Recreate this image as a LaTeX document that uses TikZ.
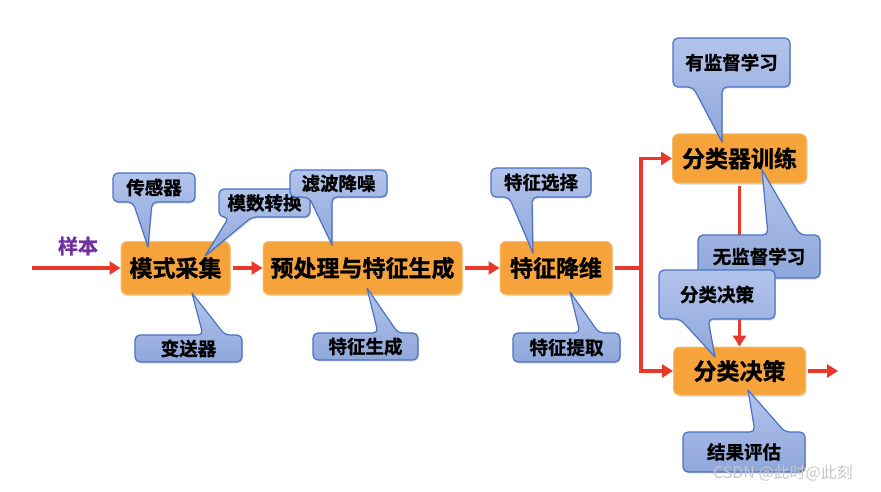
\documentclass[tikz,border=0pt]{standalone}
\usepackage{fontspec}
\setmainfont{Noto Sans CJK SC}[BoldFont={Noto Sans CJK SC Bold}, BoldFeatures={FakeBold=1.2}]
\usetikzlibrary{arrows.meta,shadows}
\definecolor{boxfill}{HTML}{F5A33A}
\definecolor{boxline}{HTML}{F7BE6A}
\definecolor{cotop}{HTML}{B3C4EC}
\definecolor{cobot}{HTML}{8FA7DB}
\definecolor{coline}{HTML}{4A72C0}
\definecolor{arrred}{HTML}{E8382A}
\definecolor{purp}{HTML}{7030A0}
\newcommand\cobot[8]{\draw[callout] (#7,#8) -- (#6,#4) -- (#3,#4) -- (#3,#2) -- (#1,#2) -- (#1,#4) -- (#5,#4) -- (#7,#8);}
\newcommand\cotop[8]{\draw[callout] (#7,#8) -- (#5,#2) -- (#1,#2) -- (#1,#4) -- (#3,#4) -- (#3,#2) -- (#6,#2) -- (#7,#8);}
\tikzset{
  stage/.style={draw=boxline, line width=1pt, fill=boxfill, rounded corners=6pt, inner sep=0pt,
    font=\fontsize{23}{23}\selectfont\bfseries,
    drop shadow={opacity=0.3, shadow xshift=1pt, shadow yshift=-1.5pt}},
  callout/.style={draw=coline, line width=1.2pt, top color=cotop, bottom color=cobot,
    rounded corners=5pt, line cap=round,
    drop shadow={opacity=0.25, shadow xshift=1pt, shadow yshift=-1.5pt}},
  cotext/.style={font=\fontsize{18.5}{18.5}\selectfont\bfseries, inner sep=0pt},
  arr/.style={draw=arrred, line width=3.4pt, shorten <=2pt, -{Triangle[length=11pt,width=13pt]}},
  ln/.style={draw=arrred, line width=3.4pt, shorten <=2pt},
}
\begin{document}
\begin{tikzpicture}[x=1pt,y=-1pt]
\useasboundingbox (0,0) rectangle (881,492);
% stages
\node[stage, minimum width=109pt, minimum height=53pt] (acq) at (175.5,268) {模式采集};
\node[stage, minimum width=199pt, minimum height=53pt] (pre) at (362.5,268) {预处理与特征生成};
\node[stage, minimum width=112pt, minimum height=53pt] (red) at (556,268) {特征降维};
\node[stage, minimum width=134pt, minimum height=49pt] (train) at (739.5,158.5) {分类器训练};
\node[stage, minimum width=132pt, minimum height=48pt] (dec) at (739.5,371) {分类决策};
% connectors
\coordinate (in) at (30,268);
\coordinate (j) at (641,268);
\coordinate (out) at (838,371);
\node[font=\fontsize{20}{20}\selectfont\bfseries, text=purp, inner sep=0pt] (sample) at (78,246) {样本};
\draw[arr] (in) -- (acq.west);
\draw[arr] (acq.east) -- (pre.west);
\draw[arr] (pre.east) -- (red.west);
\draw[ln] (red.east) -- ([xshift=1.7pt]j);
\draw[arr, shorten <=0pt] (j) |- (train.west);
\draw[arr, shorten <=0pt] (j) |- (dec.west);
\draw[arr] (train.south) -- (dec.north);
\draw[arr] (dec.east) -- (out);
% callouts
\cobot{113}{173}{195}{202}{133}{152}{148}{247}
\node[cotext] (c1) at (154,187.5) {传感器};
\cobot{219}{189}{310}{217}{229}{252}{205}{256}
\node[cotext] (c2) at (264.5,203) {模数转换};
\cobot{290}{170}{387}{197}{309}{332}{332}{245}
\node[cotext] (c3) at (338.5,183.5) {滤波降噪};
\cobot{491}{168}{591}{197}{509}{532}{533}{253}
\node[cotext] (c4) at (541,182.5) {特征选择};
\cotop{135}{335}{242}{362}{203}{225}{192}{293}
\node[cotext] (c5) at (188.5,348.5) {变送器};
\cotop{313}{333}{418}{360}{378}{398}{367}{288}
\node[cotext] (c6) at (365.5,346.5) {特征生成};
\cotop{513}{333}{620}{362}{580}{599}{570}{292}
\node[cotext] (c7) at (566.5,347.5) {特征提取};
\cobot{673}{38}{790}{87}{693}{722}{722}{142}
\node[cotext] (c8) at (731.5,62.5) {有监督学习};
\cotop{698}{235}{820}{278}{768}{800}{762}{170}
\node[cotext] (c9) at (759,256.5) {无监督学习};
\cobot{659}{270}{775}{319}{680}{708}{715}{357}
\node[cotext] (c10) at (717,294.5) {分类决策};
\cotop{683}{432}{805}{472}{755}{785}{748}{390}
\node[cotext] (c11) at (744,452) {结果评估};
% watermark
\node[font=\fontsize{16}{16}\selectfont, text=gray!45, inner sep=0pt] (wm) at (783,473) {CSDN @此时@此刻};
\end{tikzpicture}
\end{document}
